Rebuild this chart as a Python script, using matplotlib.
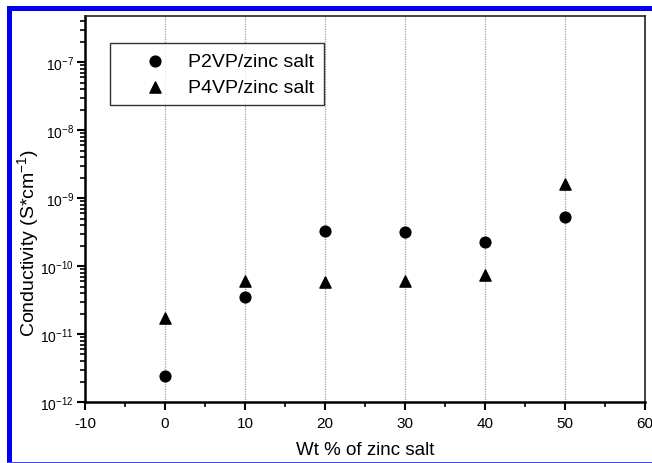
import numpy as np
import matplotlib
matplotlib.use("Agg")
import matplotlib.pyplot as plt
from matplotlib.patches import Rectangle
from matplotlib.ticker import LogLocator, MultipleLocator, NullFormatter

# values
wt_pct = [0, 10, 20, 30, 40, 50]
p2vp = [2.4e-12, 3.5e-11, 3.3e-10, 3.2e-10, 2.3e-10, 5.3e-10]
p4vp = [1.75e-11, 6.0e-11, 5.8e-11, 6.1e-11, 7.4e-11, 1.6e-9]
grid_x = [0, 10, 20, 30, 40, 50]

plt.rcParams['font.family'] = ['Liberation Sans', 'DejaVu Sans']
plt.rcParams['mathtext.fontset'] = 'custom'
plt.rcParams['mathtext.rm'] = 'Liberation Sans'
plt.rcParams['mathtext.it'] = 'Liberation Sans'
plt.rcParams['axes.unicode_minus'] = False

fig = plt.figure(figsize=(6.52, 4.64), dpi=100)
ax = fig.add_axes([0.1304, 0.1315, 0.8589, 0.8319])

for gx in grid_x:
    ax.axvline(gx, color='#999999', linestyle=(0, (1, 1)), linewidth=0.9, zorder=1)

ax.scatter(wt_pct, p2vp, marker='o', s=60, color='black', zorder=3,
           label='P2VP/zinc salt')
ax.scatter(wt_pct, p4vp, marker='^', s=65, color='black', zorder=3,
           label='P4VP/zinc salt')

ax.set_yscale('log')
ax.set_xlim(-10, 60)
ax.set_ylim(1e-12, 4.8e-7)
ax.xaxis.set_major_locator(MultipleLocator(10))
ax.xaxis.set_minor_locator(MultipleLocator(5))
ax.yaxis.set_major_locator(LogLocator(base=10, numticks=10))
ax.yaxis.set_minor_locator(LogLocator(base=10, subs=np.arange(2, 10), numticks=20))
ax.yaxis.set_minor_formatter(NullFormatter())

ax.tick_params(axis='x', which='major', direction='out', length=6, width=1.5,
               labelsize=11, pad=4)
ax.tick_params(axis='y', which='major', direction='out', length=6, width=1.5,
               labelsize=10, pad=2)
ax.tick_params(axis='both', which='minor', direction='out', length=3.5, width=1.2)
ax.tick_params(top=False, right=False)

for side in ['left', 'bottom']:
    ax.spines[side].set_linewidth(1.8)
for side in ['top', 'right']:
    ax.spines[side].set_linewidth(1.2)
    ax.spines[side].set_color('#222222')

ax.set_xlabel('Wt % of zinc salt', fontsize=13.5, labelpad=8)
ax.set_ylabel('Conductivity (S*cm$^{-1}$)', fontsize=14, va='center')
ax.yaxis.set_label_coords(-0.102, 0.415)

leg = ax.legend(loc='upper left', bbox_to_anchor=(0.0446, 0.930), fontsize=14,
                frameon=True, fancybox=False, edgecolor='black',
                borderpad=0.5, handletextpad=-0.1, labelspacing=0.4,
                borderaxespad=0, handlelength=3.6, scatterpoints=1)
leg.get_frame().set_linewidth(1.0)

# blue frame around the figure (left, top, bottom)
W, H = 652, 464
blue = '#0000ee'
fig.add_artist(Rectangle((7 / W, 0), 5 / W, 1 - 7 / H, transform=fig.transFigure,
                         color=blue, linewidth=0))
fig.add_artist(Rectangle((7 / W, 1 - 12 / H), 1 - 7 / W, 5 / H,
                         transform=fig.transFigure, color=blue, linewidth=0))
fig.add_artist(Rectangle((7 / W, 0), 1 - 7 / W, 1.5 / H, transform=fig.transFigure,
                         color='#4444ee', linewidth=0))

fig.savefig('out.png', dpi=100)
